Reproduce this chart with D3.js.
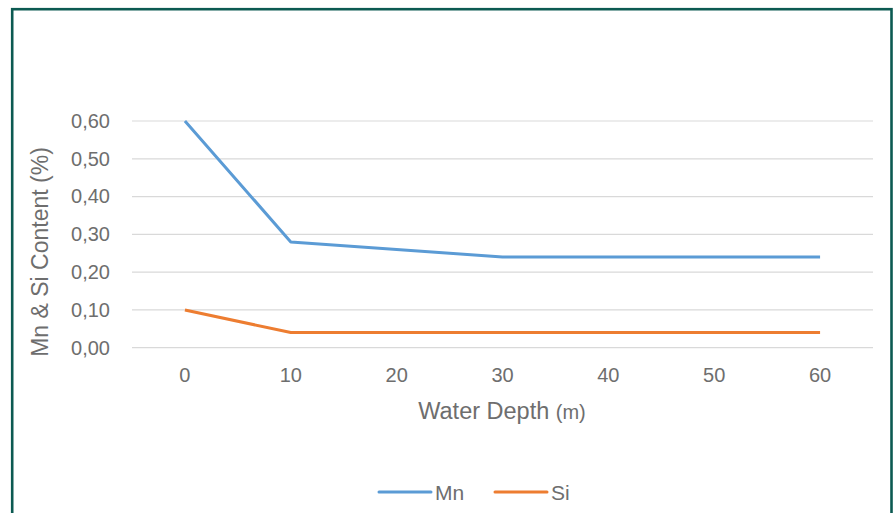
<!DOCTYPE html>
<html><head><meta charset="utf-8">
<script src="https://cdn.jsdelivr.net/npm/d3@7"></script>
<style>html,body{margin:0;padding:0;background:#fff;overflow:hidden}</style>
</head><body>
<svg id="c" width="896" height="513"></svg>
<script>
const categories = [0, 10, 20, 30, 40, 50, 60];
const mnValues = [0.60, 0.28, 0.26, 0.24, 0.24, 0.24, 0.24];
const siValues = [0.10, 0.04, 0.04, 0.04, 0.04, 0.04, 0.04];
const yTicks = [0, 0.1, 0.2, 0.3, 0.4, 0.5, 0.6];
const seriesNames = ["Mn", "Si"];
const colors = ["#5b9bd5", "#ed7d31"];

(function () {
const svg = d3.select("#c");
const font = "'Liberation Sans', Arial, sans-serif";
const textColor = "#6e6e6e";

// frame
svg.append("rect").attr("x", 12.2).attr("y", 9.2).attr("width", 879.3).attr("height", 520)
  .attr("fill", "#fff").attr("stroke", "#0c5a52").attr("stroke-width", 2.6);

const pLeft = 132, pRight = 873, pTop = 121, pBottom = 347.7;
const x = d3.scaleBand().domain(categories).range([pLeft, pRight]);
const y = d3.scaleLinear().domain([0, 0.6]).range([pBottom, pTop]);
const fmt = d => d3.format(".2f")(d).replace(".", ",");

// grid
svg.append("g").selectAll("line").data(yTicks).join("line")
  .attr("x1", pLeft).attr("x2", pRight)
  .attr("y1", d => y(d)).attr("y2", d => y(d))
  .attr("stroke", "#d9d9d9").attr("stroke-width", 1.2);

// y axis labels
const yAxis = d3.axisLeft(y).tickValues(yTicks).tickFormat(fmt).tickSize(0).tickPadding(22);
const gy = svg.append("g").attr("transform", `translate(${pLeft},0)`).call(yAxis);
gy.select(".domain").remove();
gy.selectAll("text").attr("font-family", font).attr("font-size", 20).attr("fill", textColor);

// x axis labels
const xAxis = d3.axisBottom(x).tickSize(0).tickPadding(20);
const gx = svg.append("g").attr("transform", `translate(0,${pBottom})`).call(xAxis);
gx.select(".domain").remove();
gx.selectAll("text").attr("font-family", font).attr("font-size", 20).attr("fill", textColor);

// lines
const line = d3.line().x((d, i) => x(categories[i]) + x.bandwidth() / 2).y(d => y(d));
[mnValues, siValues].forEach((vals, k) => {
  svg.append("path").datum(vals).attr("d", line).attr("fill", "none")
    .attr("stroke", colors[k]).attr("stroke-width", 3).attr("stroke-linejoin", "round");
});

// axis titles
const xt = svg.append("text").attr("x", 502).attr("y", 419).attr("text-anchor", "middle")
  .attr("font-family", font).attr("fill", textColor).attr("font-size", 23.5);
xt.append("tspan").text("Water Depth ");
xt.append("tspan").attr("font-size", 20).text("(m)");

svg.append("text").attr("transform", "translate(48,252) rotate(-90)").attr("text-anchor", "middle")
  .attr("font-family", font).attr("fill", textColor).attr("font-size", 23)
  .text("Mn & Si Content (%)");

// legend
const legendX = [379, 495];
seriesNames.forEach((name, k) => {
  svg.append("line").attr("x1", legendX[k]).attr("x2", legendX[k] + 52)
    .attr("y1", 492).attr("y2", 492).attr("stroke", colors[k]).attr("stroke-width", 3)
    .attr("stroke-linecap", "round");
  svg.append("text").attr("x", legendX[k] + 56).attr("y", 499.5)
    .attr("font-family", font).attr("font-size", 21).attr("fill", textColor).text(name);
});
})();
</script>
</body></html>
